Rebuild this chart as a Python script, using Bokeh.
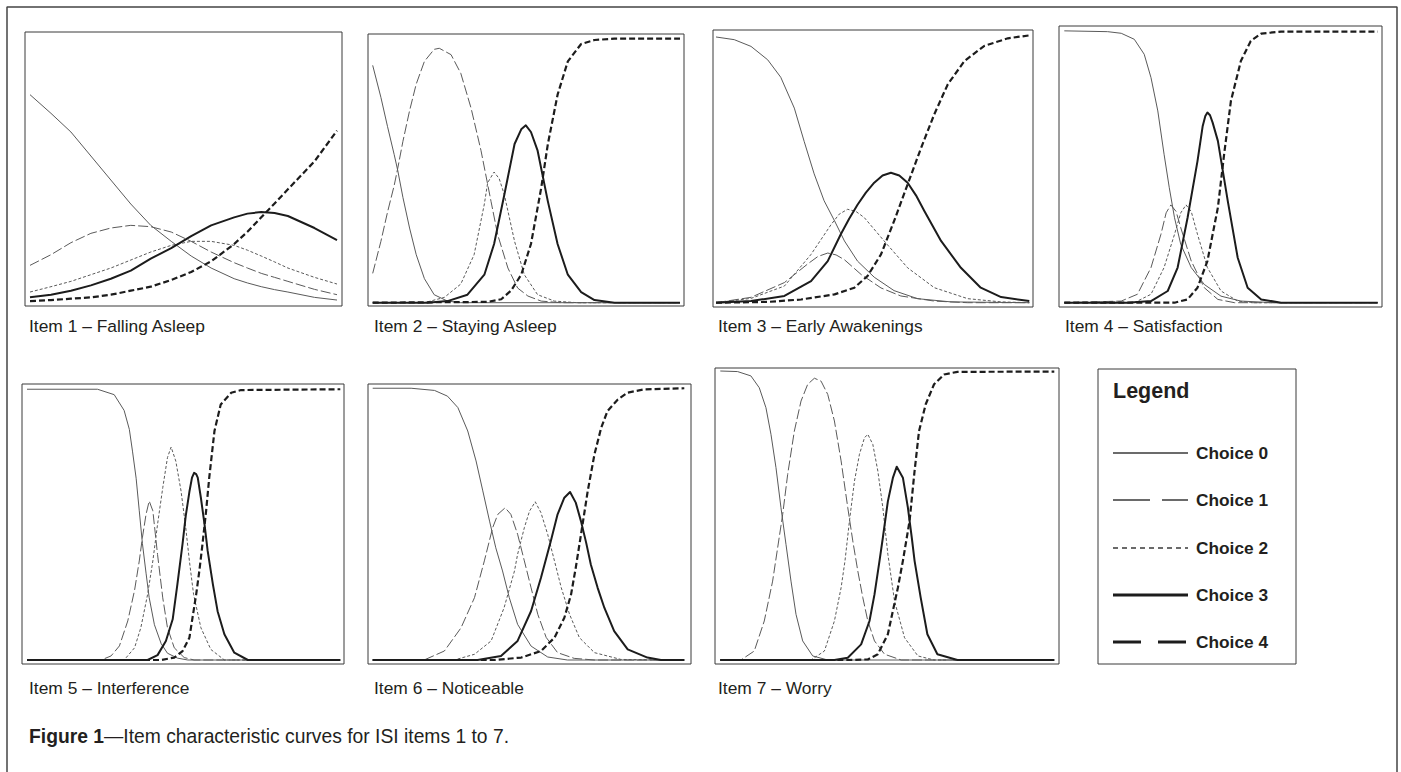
from bokeh.plotting import figure
from bokeh.models import Range1d
from bokeh.embed import file_html
from bokeh.resources import INLINE
from bokeh.core.properties import value

# ---------------- data (theta on x, probability on y) ----------------
ITEM_TITLES = ["Item 1 – Falling Asleep", "Item 2 – Staying Asleep", "Item 3 – Early Awakenings",
               "Item 4 – Satisfaction", "Item 5 – Interference", "Item 6 – Noticeable", "Item 7 – Worry"]
CHOICES = ["Choice 0", "Choice 1", "Choice 2", "Choice 3", "Choice 4"]
FIG_LABEL = "Figure 1"
FIG_TEXT = "—Item characteristic curves for ISI items 1 to 7."

i1_x = [-3.00, -2.59, -2.20, -1.81, -1.42, -1.03, -0.64, -0.24, 0.15, 0.54, 0.99, 1.25, 1.52, 1.78, 2.04, 2.56, 3.00]
i1_c0 = [0.78, 0.71, 0.64, 0.55, 0.46, 0.37, 0.29, 0.23, 0.175, 0.13, 0.09, 0.074, 0.06, 0.049, 0.04, 0.02, 0.01]
i1_c1 = [0.14, 0.18, 0.225, 0.26, 0.28, 0.29, 0.285, 0.265, 0.23, 0.19, 0.15, 0.13, 0.11, 0.095, 0.08, 0.05, 0.03]
i1_c2 = [0.04, 0.06, 0.08, 0.105, 0.13, 0.16, 0.19, 0.215, 0.23, 0.23, 0.215, 0.197, 0.175, 0.153, 0.13, 0.095, 0.07]
i1_c3 = [0.02, 0.03, 0.045, 0.065, 0.09, 0.12, 0.165, 0.205, 0.25, 0.29, 0.32, 0.334, 0.34, 0.336, 0.325, 0.28, 0.235]
i1_c4 = [0.006, 0.01, 0.015, 0.02, 0.03, 0.045, 0.06, 0.085, 0.115, 0.155, 0.22, 0.266, 0.32, 0.372, 0.425, 0.53, 0.645]

i2_c0_x = [-3.00, -2.84, -2.71, -2.58, -2.51, -2.41, -2.28, -2.15, -1.99, -1.80, -1.54, -1.28, 3.00]
i2_c0_y = [0.89, 0.77, 0.66, 0.555, 0.495, 0.395, 0.28, 0.18, 0.09, 0.03, 0.006, 0.0, 0.0]
i2_c1_x = [-3.00, -2.84, -2.71, -2.58, -2.51, -2.41, -2.28, -2.15, -1.99, -1.80, -1.70, -1.47, -1.28, -1.08,
           -0.885, -0.69, -0.56, -0.36, -0.17, 0.03, 0.29, 0.68, 3.00]
i2_c1_y = [0.11, 0.23, 0.34, 0.44, 0.505, 0.605, 0.72, 0.82, 0.905, 0.95, 0.954, 0.93, 0.86, 0.73,
           0.57, 0.38, 0.255, 0.13, 0.055, 0.025, 0.006, 0.0, 0.0]
i2_c2_x = [-3.00, -1.99, -1.60, -1.28, -1.02, -0.82, -0.755, -0.63, -0.53, -0.43, -0.23, -0.04, 0.22, 0.55, 1.00, 3.00]
i2_c2_y = [0.0, 0.0, 0.02, 0.07, 0.18, 0.37, 0.45, 0.49, 0.465, 0.405, 0.23, 0.105, 0.03, 0.006, 0.0, 0.0]
i2_c3_x = [-3.00, -1.93, -1.54, -1.15, -0.82, -0.63, -0.43, -0.23, -0.10, -0.01, 0.09, 0.22, 0.42, 0.61,
           0.81, 1.07, 1.33, 1.72, 3.00]
i2_c3_y = [0.0, 0.0, 0.006, 0.03, 0.105, 0.22, 0.405, 0.595, 0.65, 0.665, 0.64, 0.57, 0.38, 0.22,
           0.105, 0.04, 0.01, 0.0, 0.0]
i2_c4_x = [-3.00, -0.76, -0.49, -0.30, -0.10, 0.09, 0.29, 0.42, 0.61, 0.81, 1.07, 1.33, 1.72, 3.00]
i2_c4_y = [0.0, 0.003, 0.013, 0.045, 0.105, 0.22, 0.43, 0.595, 0.78, 0.905, 0.97, 0.985, 0.99, 0.99]

i3_c0_x = [-3.00, -2.65, -2.33, -2.01, -1.76, -1.50, -1.31, -1.12, -0.93, -0.73, -0.54, -0.29, 0.03, 0.41, 0.86, 1.50, 3.00]
i3_c0_y = [0.99, 0.98, 0.955, 0.905, 0.84, 0.725, 0.60, 0.48, 0.38, 0.305, 0.23, 0.155, 0.095, 0.045, 0.015, 0.003, 0.0]
i3_c1_x = [-3.00, -2.33, -1.69, -1.24, -1.05, -0.86, -0.70, -0.54, -0.22, 0.16, 0.54, 1.18, 1.82, 3.00]
i3_c1_y = [0.0, 0.02, 0.075, 0.145, 0.172, 0.185, 0.178, 0.16, 0.105, 0.055, 0.025, 0.006, 0.0, 0.0]
i3_c2_x = [-3.00, -2.33, -1.69, -1.18, -0.80, -0.64, -0.48, -0.32, -0.16, 0.22, 0.67, 1.18, 1.82, 2.46, 3.00]
i3_c2_y = [0.0, 0.016, 0.062, 0.18, 0.29, 0.33, 0.348, 0.34, 0.317, 0.23, 0.13, 0.056, 0.015, 0.003, 0.0]
i3_c3_x = [-3.00, -2.33, -1.69, -1.18, -0.86, -0.61, -0.45, -0.29, -0.13, 0.03, 0.19, 0.35, 0.51, 0.67, 0.83, 0.99,
           1.31, 1.69, 2.07, 2.46, 3.00]
i3_c3_y = [0.0, 0.006, 0.025, 0.08, 0.155, 0.255, 0.313, 0.365, 0.41, 0.447, 0.474, 0.484, 0.474, 0.447, 0.4, 0.342,
           0.23, 0.13, 0.056, 0.021, 0.006]
i3_c4_x = [-3.00, -2.01, -1.37, -0.73, -0.35, -0.10, 0.16, 0.41, 0.67, 0.93, 1.18, 1.44, 1.76, 2.14, 2.59, 3.00]
i3_c4_y = [0.0, 0.003, 0.012, 0.031, 0.056, 0.099, 0.18, 0.304, 0.441, 0.578, 0.702, 0.814, 0.901, 0.957, 0.985, 0.996]

i4_c0_x = [-3.00, -2.17, -1.91, -1.66, -1.47, -1.34, -1.21, -1.09, -0.99, -0.89, -0.77, -0.57, -0.32, 0.00, 0.38, 1.02, 3.00]
i4_c0_y = [0.998, 0.995, 0.989, 0.967, 0.912, 0.826, 0.704, 0.545, 0.422, 0.312, 0.214, 0.129, 0.067, 0.024, 0.006, 0.0, 0.0]
i4_c1_x = [-3.00, -1.91, -1.60, -1.34, -1.15, -1.05, -0.96, -0.86, -0.77, -0.57, -0.32, -0.06, 0.26, 3.00]
i4_c1_y = [0.0, 0.006, 0.031, 0.129, 0.251, 0.33, 0.359, 0.335, 0.275, 0.153, 0.055, 0.012, 0.0, 0.0]
i4_c2_x = [-3.00, -1.66, -1.34, -1.09, -0.89, -0.77, -0.67, -0.57, -0.45, -0.26, 0.00, 0.32, 0.64, 3.00]
i4_c2_y = [0.0, 0.0, 0.031, 0.129, 0.251, 0.33, 0.359, 0.335, 0.251, 0.129, 0.043, 0.006, 0.0, 0.0]
i4_c3_x = [-3.00, -1.79, -1.34, -1.02, -0.83, -0.64, -0.45, -0.35, -0.30, -0.26, -0.21, -0.16, -0.06, 0.13, 0.32,
           0.51, 0.77, 1.15, 3.00]
i4_c3_y = [0.0, 0.0, 0.006, 0.043, 0.129, 0.312, 0.52, 0.649, 0.685, 0.698, 0.688, 0.661, 0.594, 0.373, 0.165,
           0.055, 0.012, 0.0, 0.0]
i4_c4_x = [-3.00, -0.89, -0.64, -0.45, -0.26, -0.06, 0.06, 0.19, 0.38, 0.57, 0.77, 1.15, 3.00]
i4_c4_y = [0.0, 0.0, 0.012, 0.055, 0.153, 0.349, 0.545, 0.741, 0.887, 0.961, 0.988, 0.995, 0.995]

i5_c0_x = [-3.00, -1.65, -1.33, -1.14, -1.04, -0.98, -0.91, -0.85, -0.79, -0.72, -0.66, -0.56, -0.43, -0.31, -0.12, 0.08, 3.00]
i5_c0_y = [0.998, 0.998, 0.978, 0.92, 0.85, 0.77, 0.67, 0.55, 0.43, 0.32, 0.23, 0.13, 0.06, 0.025, 0.007, 0.0, 0.0]
i5_c1_x = [-3.00, -1.58, -1.39, -1.23, -1.07, -0.94, -0.85, -0.79, -0.72, -0.66, -0.59, -0.50, -0.40, -0.31,
           -0.18, 0.01, 0.20, 3.00]
i5_c1_y = [0.0, 0.0, 0.015, 0.052, 0.144, 0.257, 0.365, 0.451, 0.537, 0.586, 0.55, 0.389, 0.229, 0.119,
           0.045, 0.009, 0.0, 0.0]
i5_c2_x = [-3.00, -1.14, -0.94, -0.82, -0.69, -0.59, -0.50, -0.40, -0.31, -0.24, -0.15, -0.05, 0.04, 0.11,
           0.19, 0.33, 0.52, 0.78, 3.00]
i5_c2_y = [0.0, 0.0, 0.045, 0.119, 0.242, 0.365, 0.5, 0.635, 0.746, 0.785, 0.733, 0.623, 0.488, 0.365,
           0.242, 0.119, 0.039, 0.0, 0.0]
i5_c3_x = [-3.00, -0.69, -0.50, -0.34, -0.21, -0.12, -0.02, 0.04, 0.11, 0.16, 0.20, 0.24, 0.27, 0.33, 0.40, 0.46,
           0.56, 0.65, 0.78, 0.97, 1.23, 3.00]
i5_c3_y = [0.0, 0.0, 0.018, 0.07, 0.15, 0.279, 0.43, 0.531, 0.62, 0.672, 0.69, 0.685, 0.672, 0.598, 0.5, 0.402,
           0.279, 0.18, 0.095, 0.027, 0.0, 0.0]
i5_c4_x = [-3.00, -0.43, -0.18, -0.02, 0.11, 0.17, 0.24, 0.30, 0.36, 0.43, 0.49, 0.59, 0.71, 0.91, 1.10, 3.00]
i5_c4_y = [0.0, 0.0, 0.009, 0.033, 0.082, 0.156, 0.242, 0.328, 0.426, 0.549, 0.672, 0.844, 0.942, 0.985, 0.995, 0.998]

i6_c0_x = [-3.00, -2.26, -1.81, -1.56, -1.36, -1.17, -1.01, -0.88, -0.75, -0.63, -0.50, -0.37, -0.21, 0.05, 0.37, 0.75, 3.00]
i6_c0_y = [0.998, 0.998, 0.99, 0.969, 0.927, 0.841, 0.731, 0.621, 0.51, 0.412, 0.327, 0.229, 0.131, 0.051, 0.011, 0.0, 0.0]
i6_c1_x = [-3.00, -2.01, -1.62, -1.30, -1.04, -0.85, -0.69, -0.59, -0.45, -0.34, -0.21, -0.08, 0.05, 0.18,
           0.34, 0.56, 0.88, 1.27, 3.00]
i6_c1_y = [0.0, 0.0, 0.033, 0.118, 0.229, 0.364, 0.486, 0.535, 0.559, 0.535, 0.462, 0.364, 0.265, 0.167,
           0.083, 0.027, 0.006, 0.0, 0.0]
i6_c2_x = [-3.00, -1.43, -1.04, -0.72, -0.47, -0.27, -0.21, -0.08, 0.02, 0.13, 0.24, 0.37, 0.50, 0.63,
           0.79, 0.98, 1.27, 1.78, 3.00]
i6_c2_y = [0.0, 0.0, 0.021, 0.07, 0.192, 0.327, 0.388, 0.486, 0.547, 0.581, 0.541, 0.461, 0.364, 0.266,
           0.168, 0.082, 0.027, 0.002, 0.0]
i6_c3_x = [-3.00, -0.98, -0.53, -0.21, 0.05, 0.24, 0.43, 0.56, 0.69, 0.80, 0.91, 1.01, 1.11, 1.20,
           1.33, 1.46, 1.65, 1.91, 2.29, 2.55, 3.00]
i6_c3_y = [0.0, 0.0, 0.015, 0.07, 0.18, 0.302, 0.437, 0.535, 0.596, 0.617, 0.578, 0.51, 0.431, 0.351,
           0.266, 0.192, 0.106, 0.039, 0.009, 0.0, 0.0]
i6_c4_x = [-3.00, -0.66, -0.14, 0.24, 0.50, 0.69, 0.82, 0.91, 1.01, 1.14, 1.27, 1.40, 1.52, 1.72, 1.91, 2.23, 3.00]
i6_c4_y = [0.0, 0.0, 0.009, 0.033, 0.082, 0.155, 0.241, 0.339, 0.46, 0.62, 0.755, 0.853, 0.914, 0.957, 0.982, 0.994, 0.998]

i7_c0_x = [-3.00, -2.69, -2.45, -2.30, -2.18, -2.09, -2.00, -1.91, -1.82, -1.73, -1.64, -1.52, -1.34, -1.07, 3.00]
i7_c0_y = [1.0, 0.998, 0.983, 0.942, 0.873, 0.781, 0.666, 0.527, 0.40, 0.273, 0.158, 0.066, 0.014, 0.0, 0.0]
i7_c1_x = [-3.00, -2.63, -2.39, -2.21, -2.06, -1.97, -1.88, -1.79, -1.67, -1.55, -1.43, -1.31, -1.19, -1.07,
           -0.95, -0.83, -0.71, -0.62, -0.53, -0.44, -0.35, -0.23, -0.05, 0.25, 3.00]
i7_c1_y = [0.0, 0.0, 0.031, 0.135, 0.273, 0.388, 0.503, 0.642, 0.792, 0.896, 0.954, 0.975, 0.965, 0.919,
           0.827, 0.689, 0.527, 0.412, 0.308, 0.216, 0.135, 0.066, 0.02, 0.0, 0.0]
i7_c2_x = [-3.00, -1.37, -1.13, -0.95, -0.83, -0.76, -0.68, -0.59, -0.50, -0.41, -0.35, -0.26, -0.17, -0.08,
           0.01, 0.13, 0.31, 0.55, 0.84, 3.00]
i7_c2_y = [0.0, 0.0, 0.031, 0.135, 0.25, 0.343, 0.481, 0.619, 0.712, 0.769, 0.781, 0.746, 0.654, 0.527,
           0.366, 0.204, 0.077, 0.014, 0.0, 0.0]
i7_c3_x = [-3.00, -0.95, -0.71, -0.47, -0.32, -0.23, -0.14, -0.08, 0.01, 0.10, 0.17, 0.28, 0.37, 0.44,
           0.49, 0.60, 0.72, 0.90, 1.26, 3.00]
i7_c3_y = [0.0, 0.0, 0.008, 0.054, 0.135, 0.227, 0.343, 0.423, 0.549, 0.63, 0.669, 0.631, 0.527, 0.423,
           0.343, 0.216, 0.089, 0.02, 0.0, 0.0]
i7_c4_x = [-3.00, -0.71, -0.35, -0.17, 0.01, 0.10, 0.19, 0.28, 0.40, 0.49, 0.57, 0.69, 0.84, 1.02, 1.26, 3.00]
i7_c4_y = [0.0, 0.0, 0.002, 0.02, 0.089, 0.17, 0.25, 0.343, 0.481, 0.654, 0.792, 0.885, 0.954, 0.988, 0.997, 0.998]

ITEMS = [
    [(i1_x, i1_c0), (i1_x, i1_c1), (i1_x, i1_c2), (i1_x, i1_c3), (i1_x, i1_c4)],
    [(i2_c0_x, i2_c0_y), (i2_c1_x, i2_c1_y), (i2_c2_x, i2_c2_y), (i2_c3_x, i2_c3_y), (i2_c4_x, i2_c4_y)],
    [(i3_c0_x, i3_c0_y), (i3_c1_x, i3_c1_y), (i3_c2_x, i3_c2_y), (i3_c3_x, i3_c3_y), (i3_c4_x, i3_c4_y)],
    [(i4_c0_x, i4_c0_y), (i4_c1_x, i4_c1_y), (i4_c2_x, i4_c2_y), (i4_c3_x, i4_c3_y), (i4_c4_x, i4_c4_y)],
    [(i5_c0_x, i5_c0_y), (i5_c1_x, i5_c1_y), (i5_c2_x, i5_c2_y), (i5_c3_x, i5_c3_y), (i5_c4_x, i5_c4_y)],
    [(i6_c0_x, i6_c0_y), (i6_c1_x, i6_c1_y), (i6_c2_x, i6_c2_y), (i6_c3_x, i6_c3_y), (i6_c4_x, i6_c4_y)],
    [(i7_c0_x, i7_c0_y), (i7_c1_x, i7_c1_y), (i7_c2_x, i7_c2_y), (i7_c3_x, i7_c3_y), (i7_c4_x, i7_c4_y)],
]

# ---------------- layout (page pixels) ----------------
W, H = 1401, 772


def px(X):
    return X + 0.5


def py(Y):
    return H - (Y + 0.5)


# panel frames: left, right, top, bottom
FRAMES = [(24, 341, 31, 305), (367, 683, 33, 305), (712, 1032, 29, 306), (1058, 1381, 25, 306),
          (21, 343, 383, 663), (367, 690, 383, 663), (714, 1058, 367, 663)]
# plotting area inside each frame: x(theta=-3), x(theta=3), y(p=1), y(p=0)
AREAS = [(29, 336, 35, 301.7), (371.7, 679, 35, 301.7), (715, 1028.3, 33.3, 301.7), (1063.3, 1376.7, 29.3, 301.7),
         (26, 339.3, 387.7, 659), (371.7, 683.3, 386.7, 659), (719.3, 1053.3, 370, 659)]
# caption anchor: left x, vertical centre y
CAPTION_POS = [(28, 325), (373, 325), (717, 325), (1064, 325), (28, 687), (373, 687), (717, 687)]
LEGEND_BOX = (1097, 1295, 368, 663)

THIN = "#5a5a5a"
THICK = "#1c1c1c"
TXT = "#231f20"
STYLES = [dict(line_color=THIN, line_width=1.0),
          dict(line_color=THIN, line_width=1.0, line_dash="10 3"),
          dict(line_color=THIN, line_width=1.0, line_dash="3 2"),
          dict(line_color=THICK, line_width=2.0),
          dict(line_color=THICK, line_width=2.2, line_dash="6 3")]
LEG_STYLES = [dict(line_color="#3a3a3a", line_width=1.3),
              dict(line_color="#3a3a3a", line_width=1.3, line_dash="37 12"),
              dict(line_color="#3a3a3a", line_width=1.3, line_dash="5 4"),
              dict(line_color=THICK, line_width=3.0),
              dict(line_color=THICK, line_width=3.2, line_dash="28 17")]

p = figure(width=W, height=H, x_range=Range1d(0, W), y_range=Range1d(0, H),
           output_backend="svg", toolbar_location=None, min_border=0,
           x_axis_type=None, y_axis_type=None, outline_line_color=None,
           background_fill_color="white", border_fill_color="white")
p.grid.visible = False

# outer figure border (left, top, right)
p.line([px(6), px(6), px(1396), px(1396)], [0, py(6), py(6), 0], line_color="#444444", line_width=1.5)

# panel frames
p.quad(left=[px(f[0]) for f in FRAMES], right=[px(f[1]) for f in FRAMES],
       top=[py(f[2]) for f in FRAMES], bottom=[py(f[3]) for f in FRAMES],
       fill_color=None, line_color="#3a3a3a", line_width=1)

# curves, each panel drawn in its own theta / probability coordinates
for k, curves in enumerate(ITEMS):
    x0, x1, ytop, ybase = AREAS[k]
    sub = p.subplot(x_source=Range1d(-3, 3), y_source=Range1d(0, 1),
                    x_target=Range1d(px(x0), px(x1)), y_target=Range1d(py(ybase), py(ytop)))
    for c in (0, 1, 2, 4, 3):
        xs, ys = curves[c]
        sub.line(xs, ys, line_join="round", **STYLES[c])

# captions
p.text(x=[px(c[0]) for c in CAPTION_POS], y=[py(c[1]) for c in CAPTION_POS], text=ITEM_TITLES,
       text_font=value("Liberation Sans"), text_font_size="17.4px", text_color=TXT,
       text_baseline="middle", text_align="left")

# legend box
lb = LEGEND_BOX
p.quad(left=[px(lb[0])], right=[px(lb[1])], top=[py(lb[2])], bottom=[py(lb[3])],
       fill_color=None, line_color="#3a3a3a", line_width=1)
p.text(x=[px(1112)], y=[py(390)], text=["Legend"], text_font=value("Liberation Sans"),
       text_font_style="bold", text_font_size="21.5px", text_color=TXT, text_baseline="middle")
LEG_Y = [452, 499, 547, 594, 641]
for c in range(5):
    p.line([px(1112), px(1187)], [py(LEG_Y[c]), py(LEG_Y[c])], **LEG_STYLES[c])
p.text(x=[px(1195)] * 5, y=[py(v) for v in LEG_Y], text=CHOICES,
       text_font=value("Liberation Sans"), text_font_style="bold", text_font_size="17.3px",
       text_color=TXT, text_baseline="middle")

# figure caption
p.text(x=[px(28)], y=[py(735)], text=[FIG_LABEL], text_font=value("Liberation Sans"),
       text_font_style="bold", text_font_size="19.3px", text_color=TXT, text_baseline="middle")
p.text(x=[px(28 + 75)], y=[py(735)], text=[FIG_TEXT], text_font=value("Liberation Sans"),
       text_font_size="19.3px", text_color=TXT, text_baseline="middle")

open("out.html", "w").write(file_html(p, INLINE))
